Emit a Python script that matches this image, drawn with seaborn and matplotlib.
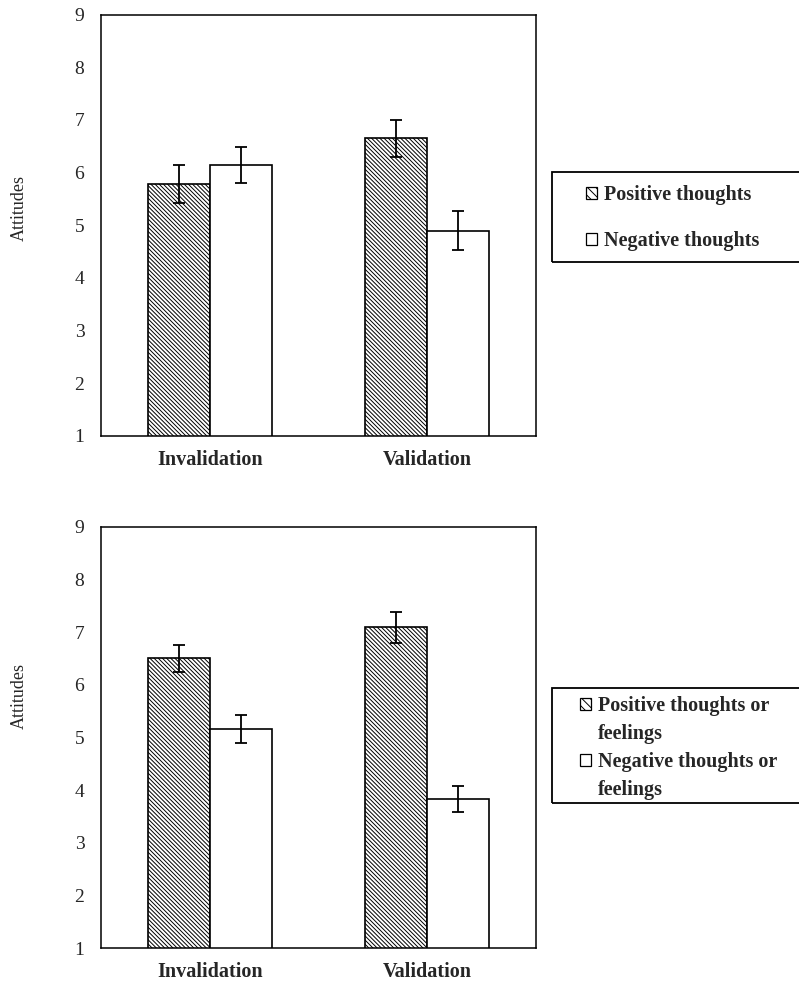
import numpy as np
import pandas as pd
import matplotlib
matplotlib.use("Agg")
import matplotlib.pyplot as plt
import matplotlib.patches as mpatches
import seaborn as sns

# datos
conditions = ["Invalidation", "Validation"]
top_labels = ["Positive thoughts", "Negative thoughts"]
top_pos = [5.78, 6.65]
top_neg = [6.15, 4.90]
top_pos_err = [0.36, 0.35]
top_neg_err = [0.34, 0.37]

bottom_labels = ["Positive thoughts or feelings", "Negative thoughts or feelings"]
bot_pos = [6.50, 7.09]
bot_neg = [5.16, 3.83]
bot_pos_err = [0.26, 0.29]
bot_neg_err = [0.27, 0.25]

y_ticks = [1, 2, 3, 4, 5, 6, 7, 8, 9]

HATCH = "\\" * 8

sns.set_style("white")
plt.rcParams["font.family"] = ["Liberation Serif", "DejaVu Serif"]
plt.rcParams["hatch.linewidth"] = 0.7

fig = plt.figure(figsize=(7.99, 9.83), dpi=100)
ax_top = fig.add_axes([0.1264, 0.5565, 0.5444, 0.4286])
ax_bot = fig.add_axes([0.1264, 0.0353, 0.5444, 0.4289])


def draw_panel(ax, pos, neg, pos_err, neg_err, labels):
    df = pd.DataFrame({
        "cond": conditions * 2,
        "val": list(pos) + list(neg),
        "grp": [labels[0]] * 2 + [labels[1]] * 2,
    })
    sns.barplot(data=df, x="cond", y="val", hue="grp", order=conditions,
                hue_order=labels, width=2 / 3.5, errorbar=None,
                palette=["white", "white"], edgecolor="black", linewidth=1.2,
                legend=False, ax=ax)
    errs = list(pos_err) + list(neg_err)
    bars = ax.patches[:4]
    for i, b in enumerate(bars):
        if i < 2:
            b.set_hatch(HATCH)
        cx = b.get_x() + b.get_width() / 2
        ax.errorbar(cx, b.get_height(), yerr=errs[i], color="black",
                    capsize=4.3, elinewidth=1.3, capthick=1.3, zorder=5)
    ax.set_ylim(1, 9)
    ax.set_xlim(-0.5, 1.5)
    ax.set_yticks(y_ticks)
    ax.set_yticklabels([str(t) for t in y_ticks], fontsize=14)
    # marcas entre categorías, etiquetas en el centro (estilo Excel)
    ax.set_xticks([-0.5, 0.5, 1.5])
    ax.set_xticklabels(["", "", ""])
    ax.set_xticks([0, 1], minor=True)
    ax.set_xticklabels(conditions, minor=True, fontsize=14.5, fontweight="bold")
    ax.tick_params(axis="x", which="minor", length=0, pad=10)
    ax.tick_params(axis="x", which="major", direction="out", length=5,
                   width=1.1, color="black")
    ax.tick_params(axis="y", direction="out", length=4, width=1.1,
                   color="black", pad=8)
    ax.set_xlabel("")
    ax.set_ylabel("Attitudes", fontsize=13)
    for s in ax.spines.values():
        s.set_color("black")
        s.set_linewidth(1.1)


draw_panel(ax_top, top_pos, top_neg, top_pos_err, top_neg_err, top_labels)
draw_panel(ax_bot, bot_pos, bot_neg, bot_pos_err, bot_neg_err, bottom_labels)
ax_top.yaxis.set_label_coords(-0.168, 0.54)
ax_bot.yaxis.set_label_coords(-0.168, 0.598)


# leyendas: marco rectangular que llega al borde derecho
def legend_box(y_top, y_bot):
    W, H = 799, 983
    rect = mpatches.Rectangle((552 / W, 1 - y_bot / H), 260 / W, (y_bot - y_top) / H,
                              transform=fig.transFigure, fill=False,
                              edgecolor="black", linewidth=1.3, clip_on=False)
    fig.patches.append(rect)


def hatched():
    return mpatches.Patch(facecolor="white", edgecolor="black", hatch="\\\\\\\\", lw=0.9)


def empty():
    return mpatches.Patch(facecolor="white", edgecolor="black", lw=0.9)


def blank():
    return mpatches.Patch(facecolor="none", edgecolor="none")


prop = {"family": "Liberation Serif", "weight": "bold", "size": 14.5}

legend_box(171.7, 261.7)
fig.legend([hatched(), empty()], top_labels, loc="upper left",
           bbox_to_anchor=(586 / 799, 1 - 185 / 983), frameon=False, prop=prop,
           handlelength=0.55, handleheight=0.55, handletextpad=0.35,
           labelspacing=1.3, borderpad=0, borderaxespad=0)

# en el original el texto se parte en dos líneas y el marcador queda en la primera
pos_words = bottom_labels[0].rsplit(" ", 1)
neg_words = bottom_labels[1].rsplit(" ", 1)
legend_box(688.3, 803.3)
fig.legend([hatched(), blank(), empty(), blank()],
           [pos_words[0], pos_words[1], neg_words[0], neg_words[1]],
           loc="upper left", bbox_to_anchor=(580 / 799, 1 - 696 / 983),
           frameon=False, prop=prop,
           handlelength=0.55, handleheight=0.55, handletextpad=0.35,
           labelspacing=0.4, borderpad=0, borderaxespad=0)

fig.savefig("out.png", dpi=100)
